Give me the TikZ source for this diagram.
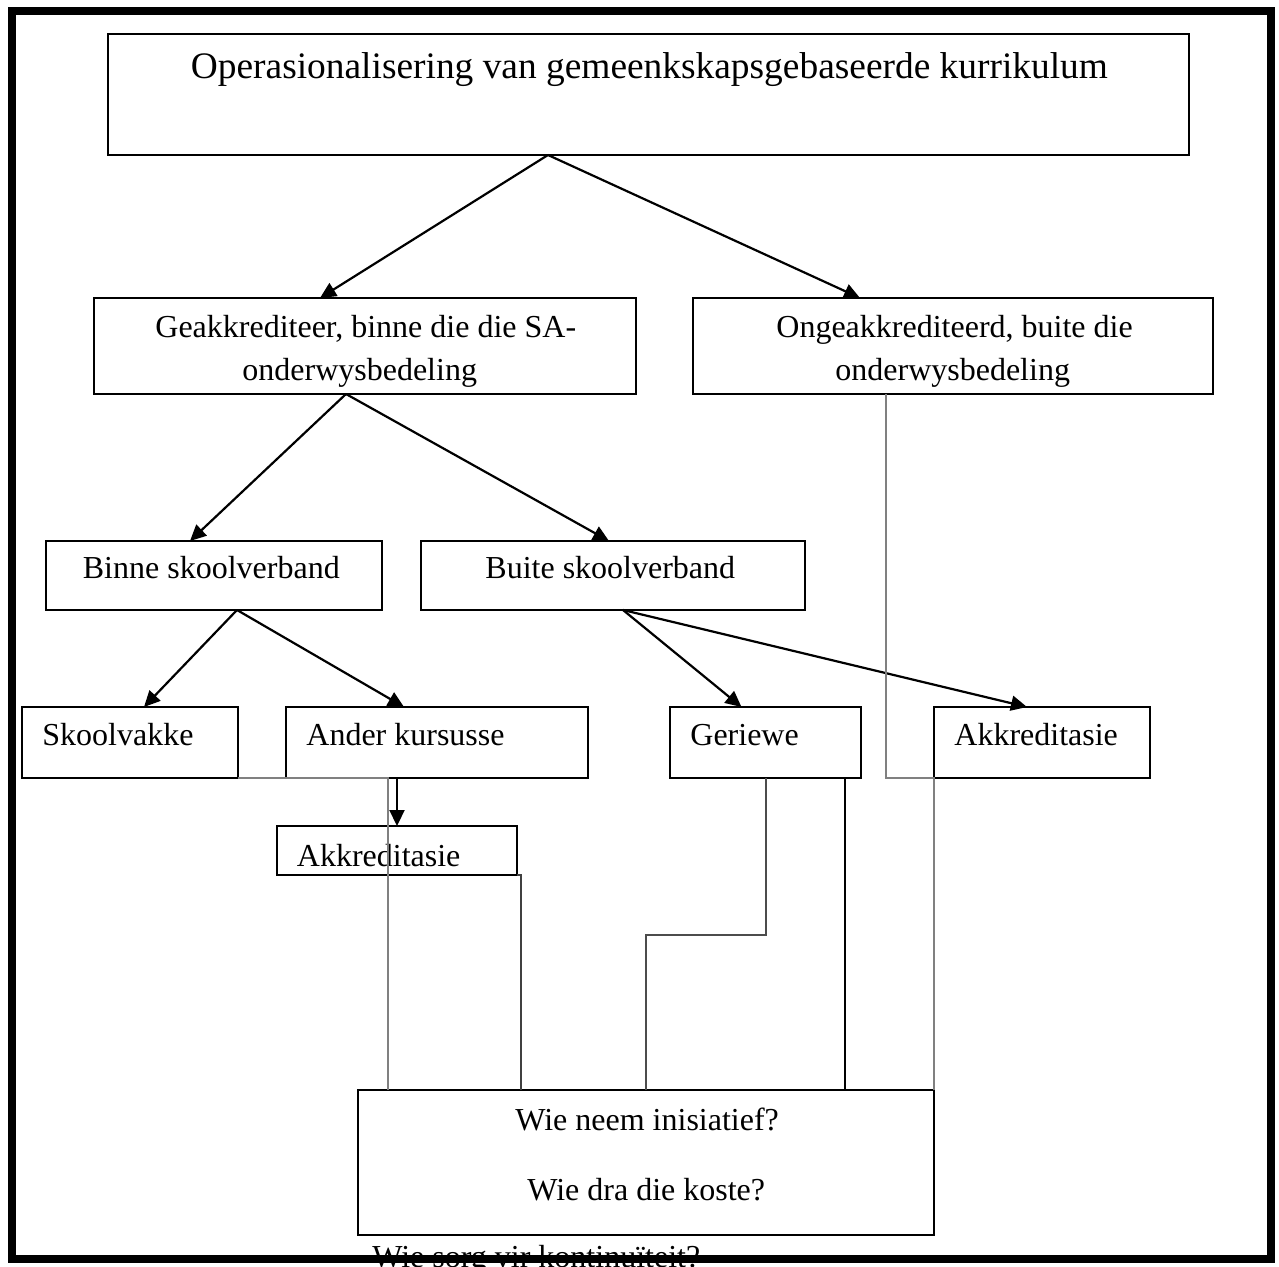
\documentclass[tikz,border=0pt]{standalone}
\usepackage{fontspec}
\setmainfont{Liberation Serif}
\usetikzlibrary{arrows.meta,fit}
\begin{document}
\begin{tikzpicture}[x=0.5pt,y=-0.5pt,
  box/.style={draw=black, line width=1.1pt, inner sep=0pt, outer sep=0pt},
  txt/.style={inner sep=0pt, anchor=base west, font=\fontsize{16}{19}\selectfont},
  ttl/.style={inner sep=0pt, anchor=base west, font=\fontsize{18.7}{22}\selectfont},
  arr/.style={line width=1.1pt, -{Triangle[length=8pt,width=7.5pt]}},
  conn/.style={line width=0.55pt, draw=#1},
  ]
\useasboundingbox (0,0) rectangle (1279,1267);
% boxes
\node[box, fit={(108,34) (1189,155)}] (top) {};
\node[box, fit={(94,298) (636,394)}] (geak) {};
\node[box, fit={(693,298) (1213,394)}] (ongeak) {};
\node[box, fit={(46,541) (382,610)}] (binne) {};
\node[box, fit={(421,541) (805,610)}] (buite) {};
\node[box, fit={(22,707) (238,778)}] (skool) {};
\node[box, fit={(286,707) (588,778)}] (ander) {};
\node[box, fit={(670,707) (861,778)}] (geriewe) {};
\node[box, fit={(934,707) (1150,778)}] (akkR) {};
\node[box, fit={(277,826) (517,875)}] (akkM) {};
\node[box, fit={(358,1090) (934,1235)}] (wie) {};
% texts
\node[ttl] (t-top) at (190.5,78.5) {Operasionalisering van gemeenkskapsgebaseerde kurrikulum};
\node[txt] (t-geak1) at (155,338) {Geakkrediteer, binne die die SA-};
\node[txt] (t-geak2) at (242,381) {onderwysbedeling};
\node[txt] (t-ongeak1) at (776,338) {Ongeakkrediteerd, buite die};
\node[txt] (t-ongeak2) at (835,381) {onderwysbedeling};
\node[txt] (t-binne) at (82.5,578) {Binne skoolverband};
\node[txt] (t-buite) at (485,578) {Buite skoolverband};
\node[txt] (t-skool) at (42,745.5) {Skoolvakke};
\node[txt] (t-ander) at (306,745.5) {Ander kursusse};
\node[txt] (t-geriewe) at (690,745.5) {Geriewe};
\node[txt] (t-akkR) at (954,745.5) {Akkreditasie};
\node[txt] (t-akkM) at (296.5,866.5) {Akkreditasie};
\node[txt] (t-wie1) at (515,1130) {Wie neem inisiatief?};
\node[txt] (t-wie2) at (527,1200) {Wie dra die koste?};
\node[txt] (t-wie3) at (372,1267) {Wie sorg vir kontinuïteit?};
% arrows
\draw[arr] ([xshift=-50.25pt]top.south) -- ([xshift=-22.5pt]geak.north);
\draw[arr] ([xshift=-50.25pt]top.south) -- ([xshift=-46.5pt]ongeak.north);
\draw[arr] ([xshift=-9.5pt]geak.south) -- ([xshift=-12pt]binne.north);
\draw[arr] ([xshift=-9.5pt]geak.south) -- ([xshift=-2pt]buite.north);
\draw[arr] ([xshift=11.5pt]binne.south) -- ([xshift=7pt]skool.north);
\draw[arr] ([xshift=11.5pt]binne.south) -- ([xshift=-16.5pt]ander.north);
\draw[arr] ([xshift=5pt]buite.south) -- ([xshift=-12pt]geriewe.north);
\draw[arr] ([xshift=5pt]buite.south) -- ([xshift=-7.5pt]akkR.north);
\draw[arr] ([xshift=-20pt]ander.south) -- (akkM.north);
% thin connectors to the bottom box
\draw[conn=black!50] (skool.south east) -| ([xshift=-129pt]wie.north);
\draw[conn=black!75] (akkM.south east) -| ([xshift=-62.5pt]wie.north);
\draw[conn=black!70] ([xshift=0.25pt]geriewe.south) -- ++(0,157) -| (wie.north);
\draw[conn=black] ([xshift=39.75pt]geriewe.south) -- ([xshift=99.5pt]wie.north);
\draw[conn=black!50] ([xshift=-33.5pt]ongeak.south) |- (akkR.south west) -- (wie.north east);
% outer frame
\draw[line width=4pt] (12,11) rectangle (1271,1259);
\end{tikzpicture}
\end{document}
